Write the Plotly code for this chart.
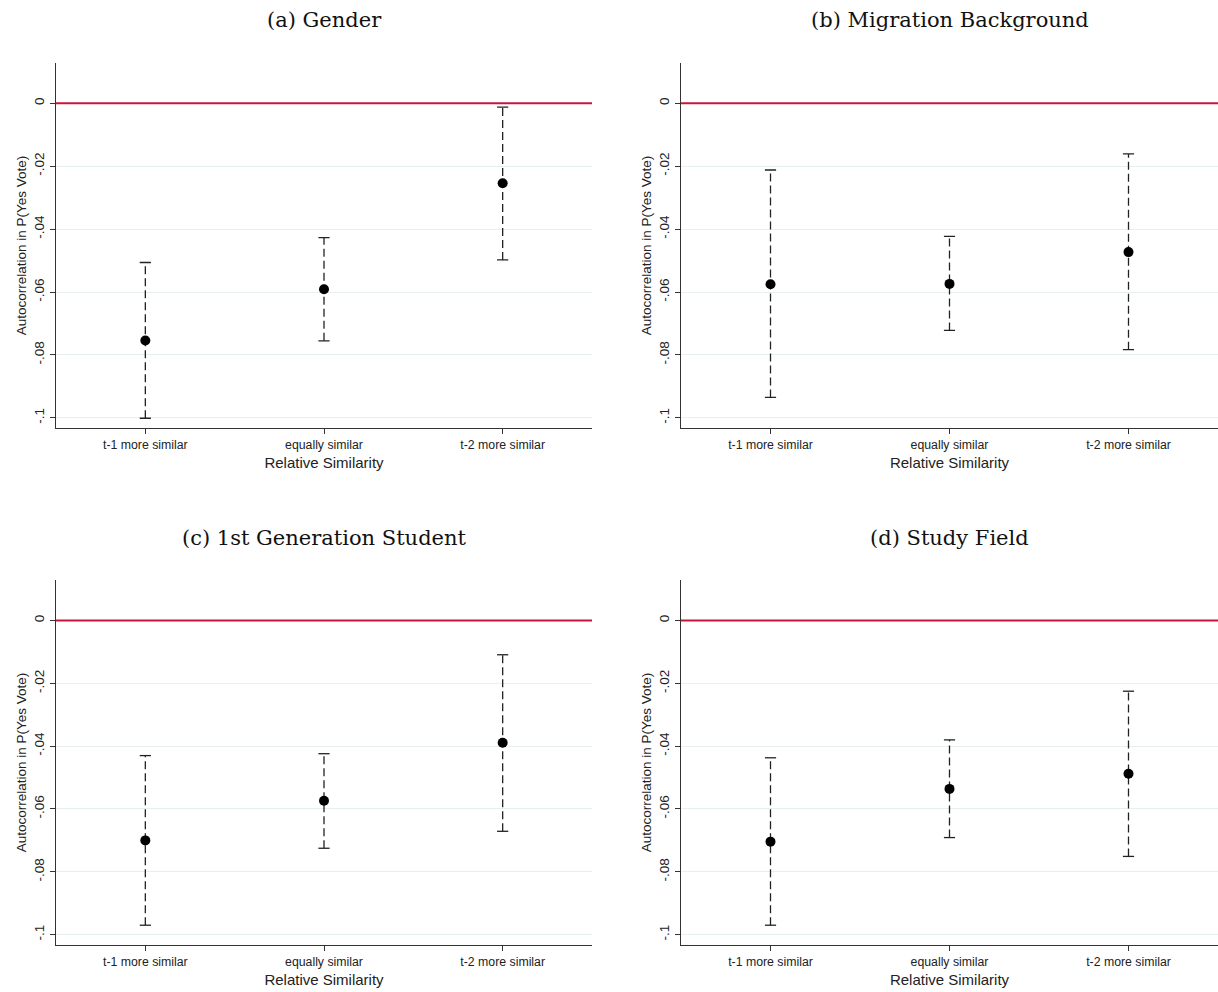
import plotly.graph_objects as go

categories = ["t-1 more similar", "equally similar", "t-2 more similar"]
panel_titles = ["(a) Gender", "(b) Migration Background", "(c) 1st Generation Student", "(d) Study Field"]

gender_est = [-0.0754, -0.0591, -0.0254]
gender_lo = [-0.1001, -0.0755, -0.0498]
gender_hi = [-0.0506, -0.0427, -0.0012]

migration_est = [-0.0575, -0.0574, -0.0473]
migration_lo = [-0.0935, -0.0722, -0.0783]
migration_hi = [-0.0212, -0.0423, -0.0161]

firstgen_est = [-0.0700, -0.0574, -0.0389]
firstgen_lo = [-0.0970, -0.0725, -0.0671]
firstgen_hi = [-0.0430, -0.0424, -0.0109]

field_est = [-0.0704, -0.0536, -0.0488]
field_lo = [-0.0970, -0.0691, -0.0751]
field_hi = [-0.0437, -0.0380, -0.0225]

y_tickvals = [0, -0.02, -0.04, -0.06, -0.08, -0.1]
y_ticktext = ["0", "-.02", "-.04", "-.06", "-.08", "-.1"]

W, H = 1218, 992
panels = [
    (gender_est, gender_lo, gender_hi),
    (migration_est, migration_lo, migration_hi),
    (firstgen_est, firstgen_lo, firstgen_hi),
    (field_est, field_lo, field_hi),
]
xdoms = [(56, 592), (681, 1218)]
ydoms = [(62.7, 428.3), (580, 945)]
title_y = [20, 538]

fig = go.Figure()
SANS = "Liberation Sans, Arial, sans-serif"
xpos = [1, 2, 3]

for i, (est, lo, hi) in enumerate(panels):
    r, c = divmod(i, 2)
    n = "" if i == 0 else str(i + 1)
    xa, ya = "x" + n, "y" + n
    x0, x1 = xdoms[c]
    yt, yb = ydoms[r]
    # whiskers
    wx, wy = [], []
    for k in range(3):
        wx += [xpos[k], xpos[k], None]
        wy += [lo[k], hi[k], None]
    fig.add_trace(go.Scatter(x=wx, y=wy, mode="lines", xaxis=xa, yaxis=ya,
                             line=dict(color="#222222", width=1.3, dash="8px,4px"),
                             hoverinfo="skip", showlegend=False))
    # caps
    fig.add_trace(go.Scatter(x=xpos + xpos, y=lo + hi, mode="markers", xaxis=xa, yaxis=ya,
                             marker=dict(symbol="line-ew", size=8, line=dict(color="#222222", width=1.3)),
                             hoverinfo="skip", showlegend=False))
    # points
    fig.add_trace(go.Scatter(x=xpos, y=est, mode="markers", xaxis=xa, yaxis=ya,
                             marker=dict(symbol="circle", size=10, color="black"),
                             showlegend=False))
    fig.add_shape(type="line", xref=xa + " domain", yref=ya, x0=0, x1=1, y0=0, y1=0,
                  line=dict(color="#c8143c", width=2), layer="above")
    fig.update_layout(**{
        "xaxis" + n: dict(domain=[x0 / W, min(x1 / W, 1)], range=[0.5, 3.5], tickvals=xpos, ticktext=categories,
                          showline=True, linecolor="#333333", linewidth=1.3, ticks="outside", ticklen=5,
                          tickcolor="#333333", showgrid=False, zeroline=False, anchor=ya,
                          tickfont=dict(family=SANS, size=12.3, color="#222222"),
                          title=dict(text="Relative Similarity", standoff=6,
                                     font=dict(family=SANS, size=15, color="#222222"))),
        "yaxis" + n: dict(domain=[1 - yb / H, 1 - yt / H], range=[-0.1033, 0.0129], tickvals=y_tickvals,
                          ticktext=y_ticktext, tickangle=-90, showline=True, linecolor="#333333",
                          linewidth=1.3, ticks="outside", ticklen=5, tickcolor="#333333",
                          showgrid=True, gridcolor="#e8eff1", gridwidth=1, zeroline=False, anchor=xa,
                          tickfont=dict(family=SANS, size=13.5, color="#222222"),
                          title=dict(text="Autocorrelation in P(Yes Vote)", standoff=2,
                                     font=dict(family=SANS, size=13.5, color="#222222"))),
    })
    fig.add_annotation(text=panel_titles[i], xref="paper", yref="paper",
                       x=(x0 + x1) / 2 / W, y=1 - title_y[r] / H,
                       showarrow=False, xanchor="center", yanchor="middle",
                       font=dict(family="DejaVu Serif, serif", size=21, color="#111111"))

fig.update_layout(width=W, height=H, margin=dict(l=0, r=0, t=0, b=0),
                  paper_bgcolor="white", plot_bgcolor="white", hovermode=False)
fig.write_html("out.html", config={"displayModeBar": False},
               post_script="document.body.style.margin='0';document.body.style.overflow='hidden';")
